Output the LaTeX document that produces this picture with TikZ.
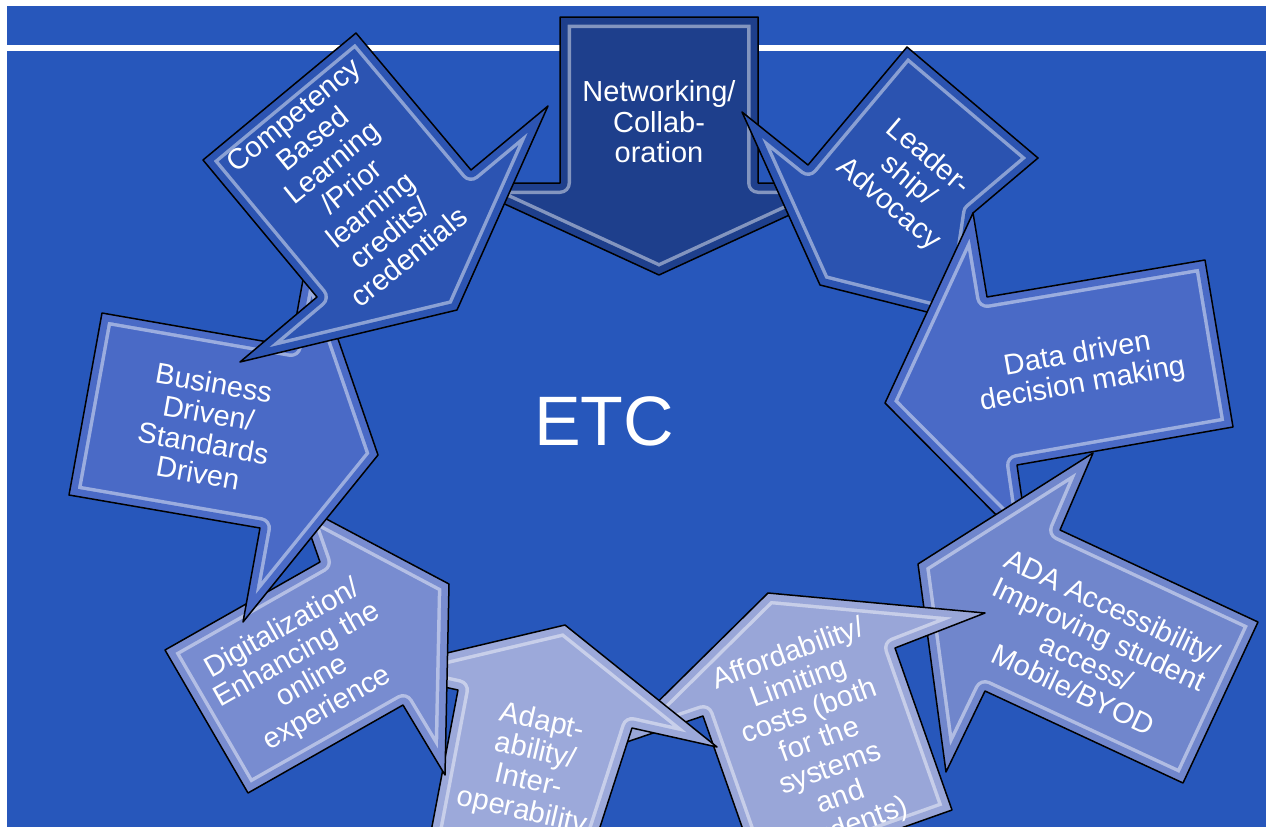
\documentclass[tikz,border=0pt]{standalone}
\usepackage{fontspec}
\setmainfont{Liberation Sans}
\definecolor{bg}{HTML}{2757BB}
\definecolor{cN}{HTML}{1E3F8C}
\definecolor{cL}{HTML}{2B53B0}
\definecolor{cD}{HTML}{4A6AC6}
\definecolor{cA}{HTML}{7086CC}
\definecolor{cAf}{HTML}{99A6D8}
\definecolor{cAd}{HTML}{9CA9DA}
\definecolor{cDi}{HTML}{788CD0}
\definecolor{cB}{HTML}{4A6AC6}
\definecolor{cC}{HTML}{2C54B2}
\newcommand\callout[2]{%
  \begin{scope}
    \clip #2;
    \fill[#1] #2;
    \draw[line width=22pt, white, opacity=0.45] #2;
    \draw[line width=15pt, #1] #2;
  \end{scope}
  \draw[outline] #2;
}
\begin{document}
\begin{tikzpicture}[x=1pt,y=-1pt,line join=round,
  outline/.style={line width=1.5pt, black},
  lbl/.style={text=white, align=center, inner sep=0pt, font=\fontsize{29}{30.5}\selectfont}]
\useasboundingbox (0,0) rectangle (1266,827);
\fill[white] (0,0) rectangle (1266,827);
\fill[bg] (7,6) rectangle (1266,827);
\fill[white] (7,45) rectangle (1266,51);
\clip (0,0) rectangle (1266,827);

% Networking
\callout{cN}{(560,17) -- (758,17) -- (758,183) -- (859,183) -- (659,275) -- (459,183) -- (560,183) -- cycle}
\node[lbl] (tN) at (659,122) {Networking/\\Collab-\\oration};
% Leadership
\callout{cL}{(907,47) -- (1038,158) -- (973,213) -- (960,300) -- (935,314) -- (820,285) -- (742,112) -- (808,165) -- cycle}
\node[lbl, rotate=-40.5] (tL) at (908,181) {Leader-\\ship/\\Advocacy};
% Data
\callout{cD}{(1205,260) -- (1233,427) -- (1017,465) -- (1029,548) -- (885,403) -- (973,213) -- (987,297) -- cycle}
\node[lbl, rotate=10] (tD) at (1080,370) {Data driven\\decision making};
% ADA
\callout{cA}{(1258,622) -- (1183,783) -- (985,691) -- (946,772) -- (918,564) -- (1093,453) -- (1060,530) -- cycle}
\node[lbl, rotate=-25] (tA) at (1093,648) {ADA Accessibility/\\Improving student\\access/\\Mobile/BYOD};
% Affordability
\callout{cAf}{(952,810) -- (760,878) -- (703,716) -- (612,747) -- (768,593) -- (985,613) -- (895,648) -- cycle}
\node[lbl, rotate=20] (tAf) at (820,741) {Affordability/\\Limiting\\costs (both\\for the\\systems\\and\\students)};
% Adaptability
\callout{cAd}{(565,625) -- (717,747) -- (632,728) -- (590,858) -- (426,858) -- (458,690) -- (371,671) -- cycle}
\node[lbl, rotate=-13] (tAd) at (532,767) {Adapt-\\ability/\\Inter-\\operability};
% Digitalization
\callout{cDi}{(248,793) -- (165,650) -- (320,562) -- (300,505) -- (449,584) -- (445,775) -- (403,705) -- cycle}
\node[lbl, rotate=29.5] (tDi) at (305,669) {Digitalization/\\Enhancing the\\online\\experience};
% Business
\callout{cB}{(102,313) -- (69,495) -- (260,528) -- (243,622) -- (378,455) -- (308,252) -- (291,346) -- cycle}
\node[lbl, rotate=-10] (tB) at (206,428) {Business\\Driven/\\Standards\\Driven};
% Competency
\callout{cC}{(356,33) -- (471,170) -- (548,106) -- (457,310) -- (240,362) -- (317,297) -- (203,160) -- cycle}
\node[lbl, rotate=39] (tC) at (351,186) {Competency\\Based\\Learning\\/Prior\\learning\\credits/\\credentials};

\node[text=white, inner sep=0pt, font=\fontsize{70}{70}\selectfont] (etc) at (604,421) {ETC};
\end{tikzpicture}
\end{document}
